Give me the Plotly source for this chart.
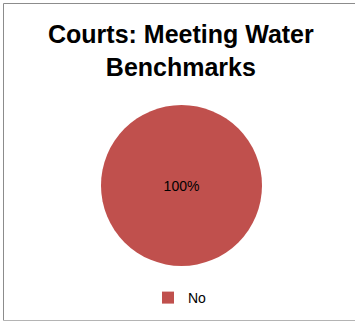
import plotly.graph_objects as go

W, H = 355, 322

# Share of courts meeting water benchmarks
labels = ["No"]
values = [100]
colors = ["#C0504D"]

title_lines = ["Courts: Meeting Water", "Benchmarks"]

fig = go.Figure(
    go.Pie(
        labels=labels,
        values=values,
        marker=dict(colors=colors, line=dict(width=0)),
        textinfo="percent",
        textposition="inside",
        insidetextfont=dict(family="Liberation Sans, Arial, sans-serif", size=14, color="#000000"),
        sort=False,
        direction="clockwise",
        domain=dict(x=[101 / W, 262 / W], y=[1 - 266 / H, 1 - 105 / H]),
        hoverinfo="label+percent",
    )
)

border = dict(type="line", xref="paper", yref="paper", line=dict(color="#8C8C8C", width=1), layer="below")

fig.update_layout(
    width=W,
    height=H,
    margin=dict(l=0, r=0, t=0, b=0),
    paper_bgcolor="#FFFFFF",
    plot_bgcolor="#FFFFFF",
    showlegend=True,
    legend=dict(
        x=148 / W,
        xanchor="left",
        y=1 - 298 / H,
        yanchor="middle",
        orientation="h",
        font=dict(family="Liberation Sans, Arial, sans-serif", size=14, color="#000000"),
        bgcolor="rgba(0,0,0,0)",
        itemwidth=30,
    ),
    annotations=[
        dict(
            text="<b>" + "<br>".join(title_lines) + "</b>",
            x=181 / W,
            y=1 - 50.5 / H,
            xref="paper",
            yref="paper",
            xanchor="center",
            yanchor="middle",
            showarrow=False,
            align="center",
            font=dict(family="Liberation Sans, Arial, sans-serif", size=25, color="#000000"),
        )
    ],
    shapes=[
        # chart frame: left, top and bottom edges
        dict(border, x0=3.5 / W, x1=3.5 / W, y0=1 - 320.5 / H, y1=1 - 3.5 / H),
        dict(border, x0=3.5 / W, x1=1, y0=1 - 3.5 / H, y1=1 - 3.5 / H),
        dict(border, x0=3.5 / W, x1=1, y0=1 - 320.5 / H, y1=1 - 320.5 / H, line=dict(color="#B4B4B4", width=1)),
    ],
)

fig.write_html("out.html")
